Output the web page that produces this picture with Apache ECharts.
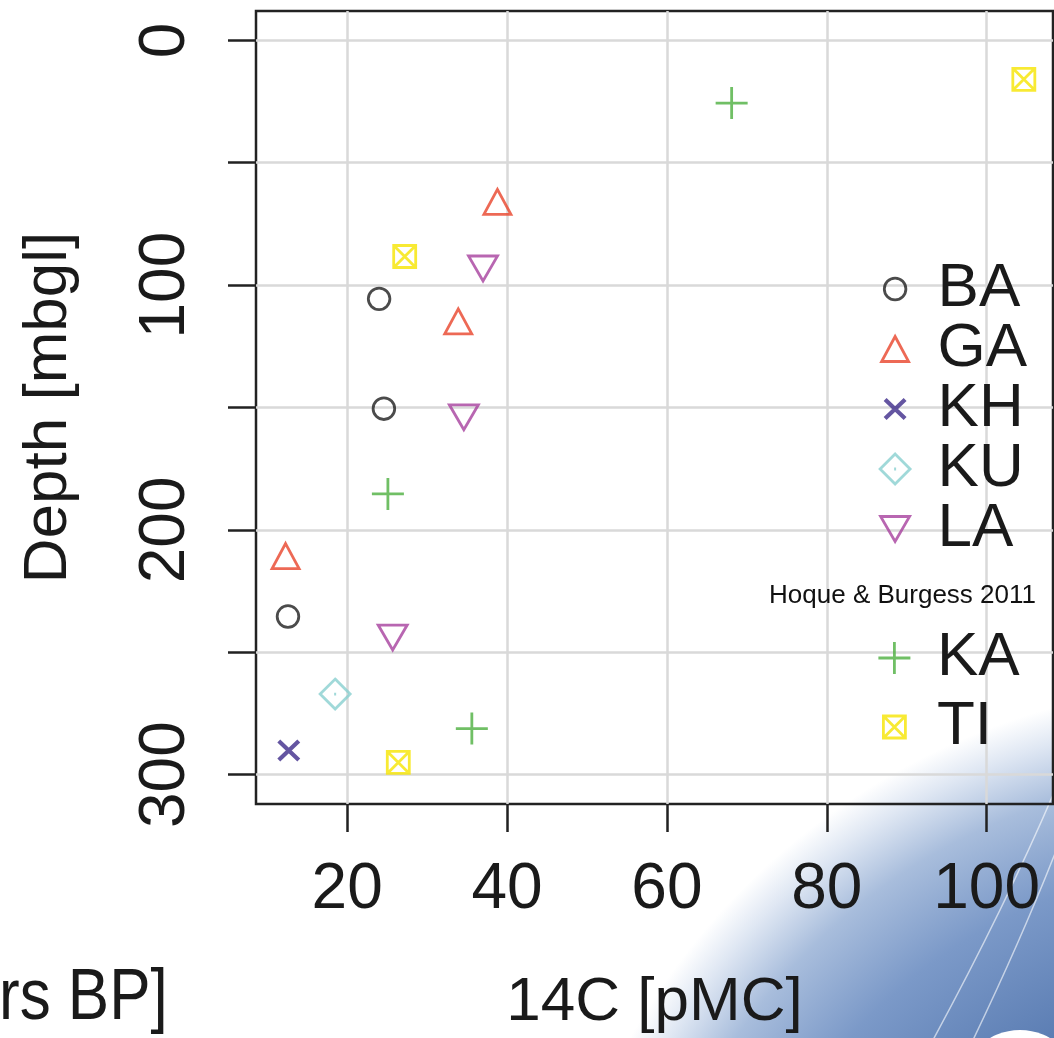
<!DOCTYPE html>
<html><head><meta charset="utf-8">
<script src="https://cdn.jsdelivr.net/npm/echarts@6/dist/echarts.min.js"></script>
<style>html,body{margin:0;padding:0;background:#fff}#c{width:1054px;height:1038px}</style>
</head><body><div id="c"></div>
<script>
// ---- data (14C [pMC] vs depth [mbgl]) ----
const groups = ['BA', 'GA', 'KH', 'KU', 'LA', 'KA', 'TI'];
const BA_pmc = [24.0, 24.6, 12.6];
const BA_depth = [105.6, 150.5, 235.4];
const GA_pmc = [38.8, 33.9, 12.3];
const GA_depth = [66.0, 114.8, 210.7];
const KH_pmc = [12.7];
const KH_depth = [290.1];
const KU_pmc = [18.5];
const KU_depth = [267.1];
const LA_pmc = [37.0, 34.6, 25.7];
const LA_depth = [93.2, 154.0, 244.0];
const KA_pmc = [68.1, 25.1, 35.6];
const KA_depth = [25.6, 185.3, 281.2];
const TI_pmc = [104.65, 27.2, 26.4];
const TI_depth = [15.9, 88.3, 295.0];
const xTicks = [20, 40, 60, 80, 100];
const yTicks = [0, 50, 100, 150, 200, 250, 300];
const yLabels = [0, 100, 200, 300];
const legendA = ['BA', 'GA', 'KH', 'KU', 'LA'];
const legendB = ['KA', 'TI'];
const noteText = 'Hoque & Burgess 2011';

const pmc = {BA: BA_pmc, GA: GA_pmc, KH: KH_pmc, KU: KU_pmc, LA: LA_pmc, KA: KA_pmc, TI: TI_pmc};
const depth = {BA: BA_depth, GA: GA_depth, KH: KH_depth, KU: KU_depth, LA: LA_depth, KA: KA_depth, TI: TI_depth};

const FONT = '"Liberation Sans", Arial, Helvetica, sans-serif';
const PAD = 'M0 0L0 0M36 36L36 36';
const style = {
  BA: {c: '#1e1e1e', w: 2.8, p: 'M7.2 18A10.8 10.8 0 1 0 28.8 18A10.8 10.8 0 1 0 7.2 18Z'},
  GA: {c: '#e8432a', w: 2.8, p: 'M18 5.5L31.5 30.5L4.5 30.5Z'},
  KH: {c: '#3d2a8a', w: 4.2, p: 'M8 8.5L28 27.5M28 8.5L8 27.5'},
  KU: {c: '#88cfd0', w: 2.8, p: 'M18 3L33 18L18 33L3 18ZM17 18L19 18'},
  LA: {c: '#a6409d', w: 2.8, p: 'M3.5 5.5L32.5 5.5L18 30.5Z'},
  KA: {c: '#4caf3e', w: 2.8, p: 'M2 18L34 18M18 2L18 34'},
  TI: {c: '#f6e500', w: 2.8, p: 'M7 7L29 7L29 29L7 29ZM7 7L29 29M29 7L7 29'}
};

const series = groups.map(g => ({
  name: g,
  type: 'scatter',
  symbol: 'path://' + PAD + style[g].p,
  symbolSize: 36,
  symbolKeepAspect: true,
  itemStyle: {color: 'rgba(0,0,0,0)', borderColor: style[g].c, borderWidth: style[g].w},
  emphasis: {disabled: true},
  z: 3,
  data: pmc[g].map((v, i) => [v, depth[g][i]])
}));

const legendCommon = {
  orient: 'vertical', left: 875, padding: 0, itemWidth: 75, itemHeight: 36,
  selectedMode: false,
  textStyle: {fontSize: 62, lineHeight: 60, color: '#1a1a1a', fontFamily: FONT},
  itemStyle: {borderWidth: 'inherit'}
};

const chart = echarts.init(document.getElementById('c'), null, {renderer: 'canvas'});
chart.setOption({
  animation: false,
  backgroundColor: '#ffffff',
  grid: {left: 256, top: 11, width: 797, height: 793, outerBoundsMode: 'none', containLabel: false,
    show: true, borderColor: '#222', borderWidth: 2.5, backgroundColor: 'rgba(0,0,0,0)'},
  xAxis: {
    type: 'value', min: 8.6, max: 108.3, position: 'bottom',
    axisLine: {show: false, onZero: false},
    axisTick: {show: true, length: 28, customValues: xTicks, lineStyle: {color: '#222', width: 2.5}},
    axisLabel: {customValues: xTicks, fontSize: 64, lineHeight: 64, margin: 54, color: '#1a1a1a', fontFamily: FONT},
    splitLine: {show: true, lineStyle: {color: '#d9d9d9', width: 2.5}},
    name: '14C [pMC]', nameLocation: 'middle', nameGap: 168,
    nameTextStyle: {fontSize: 62, lineHeight: 62, color: '#1a1a1a', fontFamily: FONT}
  },
  yAxis: {
    type: 'value', inverse: true, min: -12, max: 312, position: 'left',
    axisLine: {show: false, onZero: false},
    axisTick: {show: true, length: 28, customValues: yTicks, lineStyle: {color: '#222', width: 2.5}},
    axisLabel: {customValues: yLabels, rotate: 90, fontSize: 64, lineHeight: 64, margin: 58, color: '#1a1a1a', fontFamily: FONT},
    splitLine: {show: true, lineStyle: {color: '#d9d9d9', width: 2.5}},
    name: 'Depth [mbgl]', nameLocation: 'middle', nameRotate: 90, nameGap: 176,
    nameTextStyle: {fontSize: 62, lineHeight: 62, color: '#1a1a1a', fontFamily: FONT}
  },
  legend: [
    Object.assign({}, legendCommon, {data: legendA, top: 258, itemGap: -2}),
    Object.assign({}, legendCommon, {data: legendB, top: 627, itemGap: 7})
  ],
  graphic: [
    {
      type: 'rect', z: -10, silent: true,
      shape: {x: 0, y: 0, width: 1054, height: 1038},
      style: {fill: {type: 'radial', x: 1236, y: 1378, r: 695, global: true,
        colorStops: [
          {offset: 0, color: '#4d70a6'},
          {offset: 0.55, color: '#5b7db3'},
          {offset: 0.74, color: '#7b99c8'},
          {offset: 0.87, color: '#a8bddc'},
          {offset: 0.95, color: '#dfe7f3'},
          {offset: 1, color: '#ffffff'}
        ]}}
    },
    {type: 'bezierCurve', z: -9, silent: true,
      shape: {x1: 933, y1: 1040, x2: 1056, y2: 788, cpx1: 1006, cpy1: 905},
      style: {stroke: 'rgba(255,255,255,0.6)', lineWidth: 1.5, fill: null}},
    {type: 'bezierCurve', z: -9, silent: true,
      shape: {x1: 973, y1: 1040, x2: 1056, y2: 851, cpx1: 1021, cpy1: 940},
      style: {stroke: 'rgba(255,255,255,0.6)', lineWidth: 1.5, fill: null}},
    {type: 'circle', z: -9, silent: true,
      shape: {cx: 1020, cy: 1090, r: 60},
      style: {fill: '#ffffff'}},
    {type: 'text', z: 10, silent: true, x: 1036, y: 596,
      style: {text: noteText, fontSize: 26, fontFamily: FONT, fill: '#111', align: 'right', verticalAlign: 'middle'}},
    {type: 'text', z: 10, silent: true, x: -1, y: 999.5, scaleY: 1.17,
      style: {text: 'rs BP]', fontSize: 62, fontFamily: FONT, fill: '#1a1a1a', align: 'left', verticalAlign: 'middle'}}
  ],
  series: series
});
</script>
</body></html>
